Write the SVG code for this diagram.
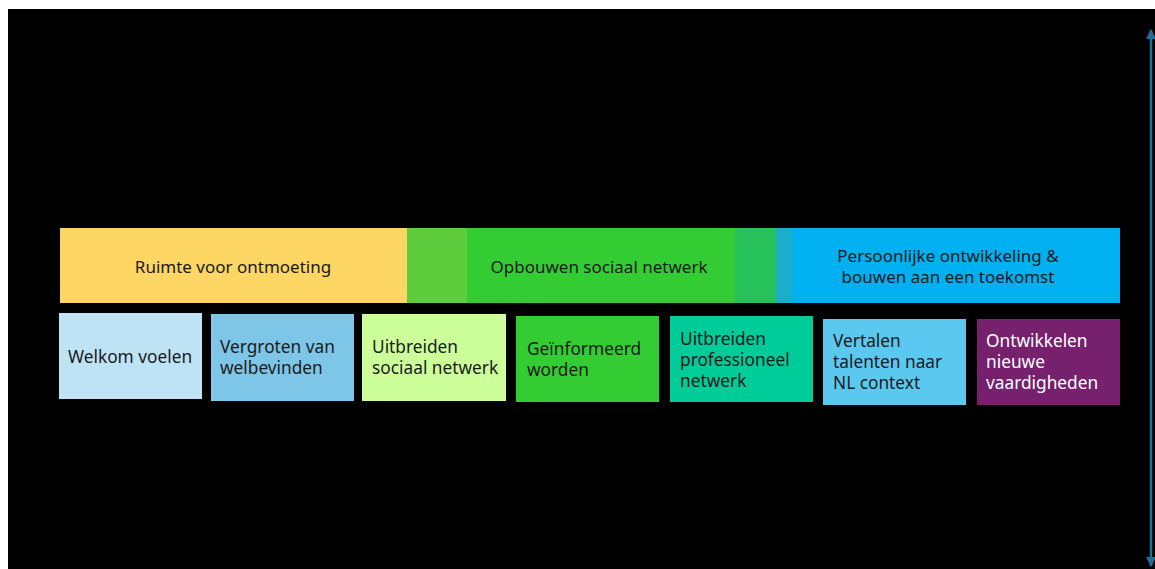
<svg xmlns="http://www.w3.org/2000/svg" width="1155" height="569" viewBox="0 0 1155 569">
<defs>
<style>
.t{font-family:"Noto Sans","Liberation Sans",sans-serif;font-size:17.3px;fill:#1a1a1a}
.h{font-family:"Noto Sans","Liberation Sans",sans-serif;font-size:17px;fill:#1a1a1a;text-anchor:middle}
.w{fill:#ffffff}
.conn{stroke:#1f6f9a;stroke-width:2.5;fill:none}
</style>
<marker id="ah" viewBox="0 0 10 10" refX="9" refY="5" markerWidth="4" markerHeight="5" orient="auto-start-reverse" markerUnits="strokeWidth">
<path d="M0,0 L10,5 L0,10 z" fill="#1f6f9a"/>
</marker>
</defs>
<rect x="0" y="0" width="1155" height="569" fill="#ffffff"/>
<rect x="8" y="9" width="1147" height="560" fill="#000000"/>

<g id="band-ruimte">
<rect x="60" y="228" width="347" height="75" fill="#fdd663"/>
<text class="h" x="233" y="273">Ruimte voor ontmoeting</text>
</g>
<g id="band-transition1">
<rect x="407" y="228" width="60" height="75" fill="#5ecc3c"/>
</g>
<g id="band-opbouwen">
<rect x="467" y="228" width="268" height="75" fill="#33cc33"/>
<text class="h" x="599" y="273">Opbouwen sociaal netwerk</text>
</g>
<g id="band-transition2">
<rect x="735" y="228" width="41" height="75" fill="#27c15a"/>
<rect x="776" y="228" width="16" height="75" fill="#1aaec8"/>
</g>
<g id="band-persoonlijk">
<rect x="792" y="228" width="328" height="75" fill="#00b0f0"/>
<text class="h" x="948" y="262">Persoonlijke ontwikkeling &amp;</text>
<text class="h" x="948" y="283">bouwen aan een toekomst</text>
</g>

<g id="node-welkom">
<rect x="59" y="313" width="143" height="86" fill="#bde3f5"/>
<text class="t" x="68" y="363">Welkom voelen</text>
</g>
<g id="node-vergroten">
<rect x="211" y="314" width="143" height="87" fill="#7dc6e8"/>
<text class="t" x="220" y="353">Vergroten van</text>
<text class="t" x="220" y="374">welbevinden</text>
</g>
<g id="node-uitbreiden-sociaal">
<rect x="362" y="314" width="144" height="87" fill="#ccff99"/>
<text class="t" x="372" y="353">Uitbreiden</text>
<text class="t" x="372" y="374">sociaal netwerk</text>
</g>
<g id="node-geinformeerd">
<rect x="516" y="316" width="143" height="86" fill="#33cc33"/>
<text class="t" x="527" y="355">Geïnformeerd</text>
<text class="t" x="527" y="376">worden</text>
</g>
<g id="node-professioneel">
<rect x="670" y="316" width="143" height="86" fill="#00cc99"/>
<text class="t" x="680" y="345">Uitbreiden</text>
<text class="t" x="680" y="366">professioneel</text>
<text class="t" x="680" y="387">netwerk</text>
</g>
<g id="node-vertalen">
<rect x="823" y="319" width="143" height="86" fill="#5bc8f0"/>
<text class="t" x="833" y="347">Vertalen</text>
<text class="t" x="833" y="368">talenten naar</text>
<text class="t" x="833" y="389">NL context</text>
</g>
<g id="node-ontwikkelen">
<rect x="977" y="319" width="143" height="86" fill="#76206e"/>
<text class="t w" x="986" y="347">Ontwikkelen</text>
<text class="t w" x="986" y="368">nieuwe</text>
<text class="t w" x="986" y="389">vaardigheden</text>
</g>

<g id="connectors">
<line class="conn" x1="1151" y1="30" x2="1151" y2="566" marker-start="url(#ah)" marker-end="url(#ah)"/>
</g>
</svg>
